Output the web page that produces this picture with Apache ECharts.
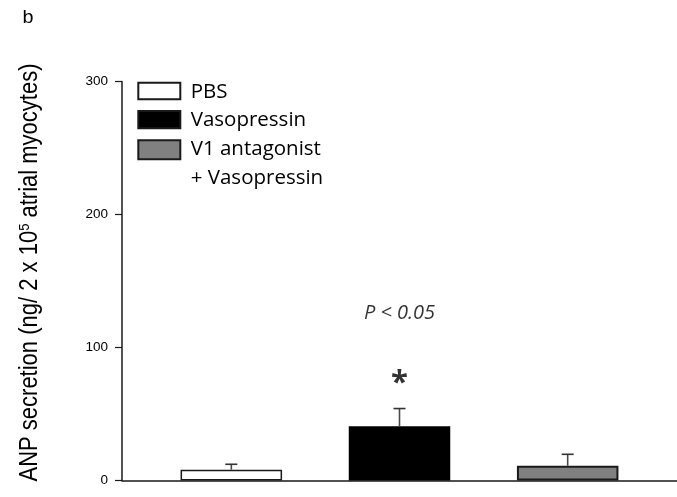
<!DOCTYPE html>
<html>
<head>
<meta charset="utf-8">
<script src="https://cdn.jsdelivr.net/npm/echarts@6/dist/echarts.min.js"></script>
<style>
html,body{margin:0;padding:0;background:#fff;}
#chart{width:677px;height:497px;}
</style>
</head>
<body>
<div id="chart"></div>
<script>
// ---- data ----
var categories = ['PBS', 'Vasopressin', 'V1 antagonist\n+ Vasopressin'];
var means = [8.1, 40.8, 11.1];
var errors = [4.1, 13.3, 8.6];
var barColors = ['#ffffff', '#000000', '#808080'];
var yTicks = [0, 100, 200, 300];

var chart = echarts.init(document.getElementById('chart'), null, {renderer: 'canvas'});

var barData = means.map(function (v, i) {
  return {
    value: [i + 1, v],
    itemStyle: {
      color: barColors[i],
      borderColor: '#1a1a1a',
      borderWidth: i === 1 ? 0 : (i === 0 ? 1.5 : 2)
    }
  };
});
var errData = means.map(function (v, i) { return [i + 1, v, v + errors[i]]; });

var legendY = [81.7, 110, 139.3];
var legendH = [16.6, 17.3, 19];
var legendTextY = [91.7, 120, 149];
var graphics = [];
categories.forEach(function (c, i) {
  graphics.push({
    type: 'rect', left: 137.3, top: legendY[i],
    shape: {width: 42, height: legendH[i]},
    style: {fill: barColors[i], stroke: '#1a1a1a', lineWidth: 2}
  });
  var lines = c.split('\n');
  lines.forEach(function (ln, k) {
    graphics.push({
      type: 'text', x: 190.7, y: legendTextY[i] + k * 29.3,
      style: {text: ln, font: '20.5px "Open Sans"', fill: '#000', textAlign: 'left', textVerticalAlign: 'middle'}
    });
  });
});
graphics.push({
  type: 'text', x: 22.5, y: 18, scaleX: 1.1,
  style: {text: 'b', font: '18px "Liberation Sans"', fill: '#000', textAlign: 'left', textVerticalAlign: 'middle'}
});
graphics.push({
  type: 'text', x: 30.5, y: 272.5, rotation: Math.PI / 2, scaleY: 1.15,
  style: {
    text: 'ANP secretion (ng/ 2 x 10{sup|5} atrial myocytes)',
    font: '22px "Liberation Sans"', fill: '#000',
    textAlign: 'center', textVerticalAlign: 'middle',
    rich: {sup: {fontSize: 13, fontFamily: 'Liberation Sans', verticalAlign: 'top', lineHeight: 22}}
  }
});

chart.setOption({
  animation: false,
  grid: {left: 122, right: 0, top: 81.5, bottom: 16.5, containLabel: false},
  xAxis: {
    type: 'value', min: 0.35, max: 3.65,
    axisLine: {show: true, onZero: false, lineStyle: {color: '#1a1a1a', width: 1.5}},
    axisTick: {show: false}, axisLabel: {show: false}, splitLine: {show: false}
  },
  yAxis: {
    type: 'value', min: 0, max: 300, interval: 100,
    axisLine: {show: true, lineStyle: {color: '#1a1a1a', width: 1.5}},
    axisTick: {show: true, length: 7, lineStyle: {color: '#1a1a1a', width: 1.2}},
    axisLabel: {
      margin: 14, fontSize: 13.5, fontFamily: 'Liberation Sans', color: '#000',
      formatter: function (v) { return yTicks.indexOf(v) >= 0 ? String(v) : ''; }
    },
    splitLine: {show: false}
  },
  graphic: graphics,
  series: [
    {
      type: 'bar', data: barData, barWidth: 101.5, z: 2
    },
    {
      type: 'custom', z: 3,
      data: errData,
      renderItem: function (params, api) {
        var x = api.value(0);
        var p0 = api.coord([x, api.value(1)]);
        var p1 = api.coord([x, api.value(2)]);
        var half = 6;
        return {
          type: 'group',
          children: [
            {type: 'line', shape: {x1: p0[0], y1: p0[1], x2: p1[0], y2: p1[1]},
             style: {stroke: '#4a4a4a', lineWidth: 1.6}},
            {type: 'line', shape: {x1: p1[0] - half, y1: p1[1], x2: p1[0] + half, y2: p1[1]},
             style: {stroke: '#333', lineWidth: 1.6}}
          ]
        };
      }
    },
    {
      type: 'scatter', symbolSize: 0, z: 4, silent: true,
      data: [
        {value: [2, 125.7], label: {show: true, position: 'inside', formatter: 'P < 0.05',
          fontFamily: 'Open Sans', fontStyle: 'italic', fontSize: 20, color: '#000'}},
        {value: [2, 73.5], label: {show: true, position: 'inside', formatter: '*',
          fontFamily: 'Open Sans', fontWeight: 'bold', fontSize: 31, color: '#000'}}
      ]
    }
  ]
});
</script>
</body>
</html>
